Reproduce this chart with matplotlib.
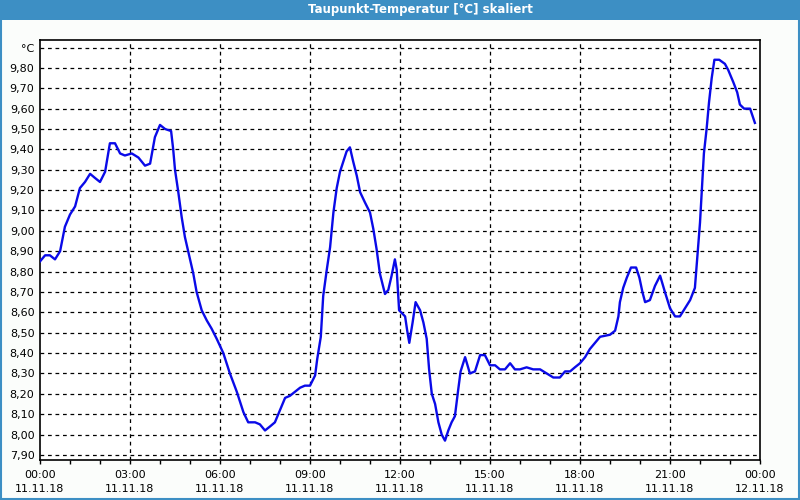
import numpy as np
import matplotlib
matplotlib.use("Agg")
import matplotlib.pyplot as plt
from matplotlib.patches import Rectangle
from matplotlib.ticker import MultipleLocator

# hours since 11.11.18 00:00
hours = [0.00, 0.17, 0.33, 0.50, 0.67, 0.83, 1.00, 1.17, 1.33, 1.50, 1.67, 1.83,
         2.00, 2.17, 2.33, 2.50, 2.67, 2.83, 3.06, 3.28, 3.50, 3.67, 3.83, 4.00,
         4.17, 4.37, 4.44, 4.50, 4.61, 4.72, 4.83, 4.94, 5.11, 5.22, 5.39, 5.56,
         5.72, 5.89, 6.11, 6.33, 6.56, 6.78, 6.94, 7.17, 7.33, 7.50, 7.67, 7.83,
         8.00, 8.17, 8.33, 8.50, 8.67, 8.83, 9.00, 9.17, 9.24, 9.36, 9.44, 9.56,
         9.67, 9.78, 9.89, 10.00, 10.11, 10.22, 10.33, 10.44, 10.56, 10.67, 10.83,
         11.00, 11.11, 11.22, 11.33, 11.50, 11.61, 11.72, 11.83, 11.89, 11.97,
         12.17, 12.24, 12.31, 12.42, 12.52, 12.67, 12.78, 12.89, 12.97, 13.06,
         13.17, 13.28, 13.39, 13.50, 13.61, 13.72, 13.83, 13.94, 14.02, 14.17,
         14.33, 14.50, 14.67, 14.83, 15.00, 15.17, 15.33, 15.50, 15.67, 15.83,
         16.00, 16.22, 16.44, 16.67, 16.89, 17.11, 17.33, 17.50, 17.67, 17.83,
         18.00, 18.17, 18.33, 18.50, 18.67, 19.00, 19.17, 19.28, 19.33, 19.44,
         19.56, 19.70, 19.87, 19.98, 20.08, 20.17, 20.33, 20.50, 20.67, 20.83,
         21.00, 21.17, 21.33, 21.50, 21.67, 21.83, 21.91, 22.00, 22.06, 22.13,
         22.22, 22.30, 22.39, 22.48, 22.64, 22.83, 22.94, 23.11, 23.24, 23.33,
         23.47, 23.67, 23.83]

taupunkt = [8.85, 8.88, 8.88, 8.86, 8.90, 9.02, 9.08, 9.12, 9.21, 9.24, 9.28, 9.26,
            9.24, 9.29, 9.43, 9.43, 9.38, 9.37, 9.38, 9.36, 9.32, 9.33, 9.46, 9.52,
            9.50, 9.49, 9.40, 9.30, 9.19, 9.07, 8.97, 8.90, 8.79, 8.70, 8.61, 8.56,
            8.52, 8.47, 8.40, 8.30, 8.21, 8.11, 8.06, 8.06, 8.05, 8.02, 8.04, 8.06,
            8.12, 8.18, 8.19, 8.21, 8.23, 8.24, 8.24, 8.29, 8.37, 8.48, 8.68, 8.81,
            8.92, 9.09, 9.21, 9.29, 9.34, 9.39, 9.41, 9.34, 9.27, 9.19, 9.14,
            9.09, 9.01, 8.91, 8.79, 8.69, 8.71, 8.78, 8.86, 8.81, 8.61,
            8.58, 8.51, 8.45, 8.55, 8.65, 8.61, 8.55, 8.47, 8.32, 8.20,
            8.15, 8.06, 8.00, 7.97, 8.02, 8.06, 8.09, 8.22, 8.31, 8.38,
            8.30, 8.31, 8.39, 8.39, 8.34, 8.34, 8.32, 8.32, 8.35, 8.32,
            8.32, 8.33, 8.32, 8.32, 8.30, 8.28, 8.28, 8.31, 8.31, 8.33,
            8.35, 8.38, 8.42, 8.45, 8.48, 8.49, 8.51, 8.58, 8.65, 8.72,
            8.77, 8.82, 8.82, 8.77, 8.70, 8.65, 8.66, 8.73, 8.78, 8.70,
            8.62, 8.58, 8.58, 8.62, 8.66, 8.72, 8.87, 9.04, 9.20, 9.38,
            9.50, 9.63, 9.75, 9.84, 9.84, 9.82, 9.79, 9.73, 9.68, 9.62,
            9.60, 9.60, 9.53]

x_ticks = [0, 3, 6, 9, 12, 15, 18, 21, 24]
x_labels = ["00:00\n11.11.18", "03:00\n11.11.18", "06:00\n11.11.18",
            "09:00\n11.11.18", "12:00\n11.11.18", "15:00\n11.11.18",
            "18:00\n11.11.18", "21:00\n11.11.18", "00:00\n12.11.18"]
y_ticks = [round(7.9 + 0.1 * i, 2) for i in range(21)]

title = "Taupunkt-Temperatur [°C] skaliert"

plt.rcParams['font.family'] = ['DejaVu Sans']

fig = plt.figure(figsize=(8, 5), dpi=100)
fig.patch.set_facecolor('#fbfdfb')

# title bar and blue frame
fig.patches.append(Rectangle((0, 0.96), 1, 0.04, transform=fig.transFigure,
                             facecolor='#3d8fc4', edgecolor='none', zorder=0))
fig.patches.append(Rectangle((0.001, 0.002), 0.998, 0.997, transform=fig.transFigure,
                             facecolor='none', edgecolor='#3d8fc4', linewidth=1.5, zorder=1))
fig.text(0.525, 0.98, title, color='white', fontsize=8.5, fontweight='bold',
         ha='center', va='center')

ax = fig.add_axes([0.05, 0.08, 0.90, 0.84])
ax.set_facecolor('white')

ax.plot(hours, taupunkt, color='#0a0ae8', linewidth=1.7, zorder=3)

ax.set_xlim(0, 24)
ax.set_ylim(7.875, 9.937)

ax.set_xticks(x_ticks)
ax.set_xticklabels(x_labels, fontsize=8, linespacing=1.55)
ax.xaxis.set_minor_locator(MultipleLocator(1))
ax.tick_params(axis='x', which='both', direction='out', length=3, width=1, pad=4)

ax.set_yticks(y_ticks)
ylabels = [("%.2f" % v).replace('.', ',') for v in y_ticks]
ylabels[-1] = "°C"
ax.set_yticklabels(ylabels, fontsize=8)
ax.tick_params(axis='y', length=0, pad=4)

for v in y_ticks:
    ax.axhline(v, color='black', linestyle=(0, (3, 3)), linewidth=0.9, zorder=1)
for h in x_ticks[1:-1]:
    ax.axvline(h, color='black', linestyle=(0, (3, 3)), linewidth=0.9, zorder=1)

for s in ax.spines.values():
    s.set_color('black')
    s.set_linewidth(1.2)

fig.savefig("out.png", dpi=100, facecolor=fig.get_facecolor())
